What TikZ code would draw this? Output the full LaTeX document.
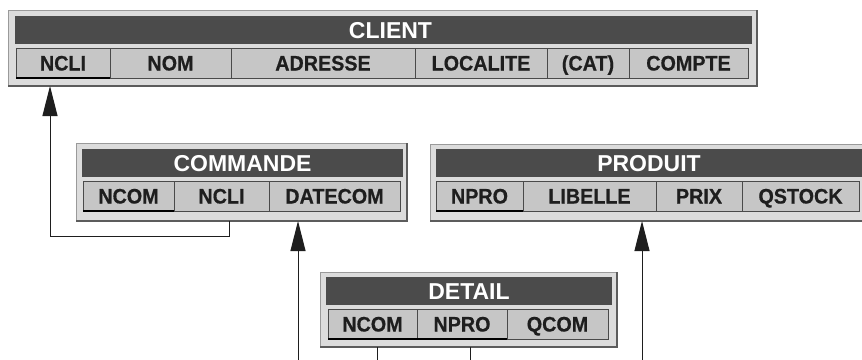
\documentclass[tikz,border=0pt]{standalone}
\usepackage{fontspec}
\setmainfont{Liberation Sans}
\newfontfamily\cellfont{Liberation Sans}[FakeStretch=0.94,FakeBold=0.6]
\usetikzlibrary{arrows.meta,calc}
\definecolor{frameBg}{HTML}{DCDCDC}
\definecolor{frameEdge}{HTML}{9A9A9A}
\definecolor{frameDark}{HTML}{5C5C5C}
\definecolor{hdr}{HTML}{4B4B4B}
\definecolor{cellBg}{HTML}{C6C6C6}
\definecolor{cellEdge}{HTML}{4A4A4A}
\definecolor{cellText}{HTML}{1E1E1E}
\definecolor{wire}{HTML}{1E1E1E}
\tikzset{
  tblframe/.style={draw=frameEdge, fill=frameBg, line width=1pt, inner sep=0pt, outer sep=0pt, anchor=north west},
  frameshade/.style={draw=frameDark, line width=2pt},
  header/.style={fill=hdr, text=white, font=\fontsize{23}{23}\selectfont\bfseries, inner sep=0pt, outer sep=0pt, anchor=north west, minimum height=28pt, text height=16.4pt, text depth=0pt},
  cell/.style={draw=cellEdge, fill=cellBg, text=cellText, line width=0.9pt, font=\cellfont\fontsize{21}{21}\selectfont\bfseries, inner sep=0pt, outer sep=0pt, anchor=north west, minimum height=30pt, text height=15pt, text depth=0pt},
  keyline/.style={draw=black, line width=2.8pt},
  conn/.style={draw=wire, line width=1pt},
  arr/.style={conn, -{Triangle[length=30pt,width=15pt]}}
}
\begin{document}
\begin{tikzpicture}[x=1pt,y=-1pt]
\useasboundingbox (0,0) rectangle (862,359);
\clip (0,0) rectangle (862,359);
\fill[white] (0,0) rectangle (862,359);

% ---------- CLIENT ----------
\node[tblframe, minimum width=749pt, minimum height=76pt] (cliF) at (8,10) {};
\draw[frameshade] (cliF.north east) -- (cliF.south east) -- (cliF.south west);
\node[header, minimum width=737pt] (cliH) at (15,16) {\hspace*{14pt}CLIENT};
\node[cell, minimum width=94pt]  (cli1) at (16,48)  {NCLI};
\node[cell, minimum width=121pt] (cli2) at (110,48) {NOM};
\node[cell, minimum width=184pt] (cli3) at (231,48) {ADRESSE};
\node[cell, minimum width=132pt] (cli4) at (415,48) {LOCALITE};
\node[cell, minimum width=82pt]  (cli5) at (547,48) {(CAT)};
\node[cell, minimum width=119pt] (cli6) at (629,48) {COMPTE};
\draw[keyline] (cli1.south west) -- (cli1.south east);

% ---------- COMMANDE ----------
\node[tblframe, minimum width=331pt, minimum height=78pt] (comF) at (76,143) {};
\draw[frameshade] (comF.north east) -- (comF.south east) -- (comF.south west);
\node[header, minimum width=321pt] (comH) at (82,149) {COMMANDE};
\node[cell, minimum width=91pt]  (com1) at (83,181)  {NCOM};
\node[cell, minimum width=95pt]  (com2) at (174,181) {NCLI};
\node[cell, minimum width=131pt] (com3) at (269,181) {DATECOM};
\draw[keyline] (com1.south west) -- (com1.south east);

% ---------- PRODUIT ----------
\node[tblframe, minimum width=445pt, minimum height=77pt] (proF) at (430,144) {};
\draw[frameshade] (proF.north east) -- (proF.south east) -- (proF.south west);
\node[header, minimum width=432pt] (proH) at (436,149) {PRODUIT\hspace*{6pt}};
\node[cell, minimum width=87pt]  (pro1) at (436,181) {NPRO};
\node[cell, minimum width=133pt] (pro2) at (523,181) {LIBELLE};
\node[cell, minimum width=86pt]  (pro3) at (656,181) {PRIX};
\node[cell, minimum width=117pt] (pro4) at (742,181) {QSTOCK};
\draw[keyline] (pro1.south west) -- (pro1.south east);

% ---------- DETAIL ----------
\node[tblframe, minimum width=297pt, minimum height=75pt] (detF) at (320,272) {};
\draw[frameshade] (detF.north east) -- (detF.south east) -- (detF.south west);
\node[header, minimum width=286pt] (detH) at (326,277) {DETAIL};
\node[cell, minimum width=89pt]  (det1) at (328,309) {NCOM};
\node[cell, minimum width=90pt]  (det2) at (417,309) {NPRO};
\node[cell, minimum width=101pt] (det3) at (507,309) {QCOM};
\draw[keyline] (det1.south west) -- (det2.south east);

% ---------- connectors ----------
\coordinate (k1) at (229,221);
\coordinate (j1) at (50,236);
\draw[arr] (k1) |- (j1) -- (j1 |- cliF.south);

\coordinate (b1) at (298,365);
\draw[arr] (b1) -- (b1 |- comF.south);
\coordinate (b2) at (642,365);
\draw[arr] (b2) -- (b2 |- proF.south);

\coordinate (d1) at (377,365);
\coordinate (d2) at (470,365);
\draw[conn] (d1 |- detF.south) -- (d1);
\draw[conn] (d2 |- detF.south) -- (d2);
\end{tikzpicture}
\end{document}
